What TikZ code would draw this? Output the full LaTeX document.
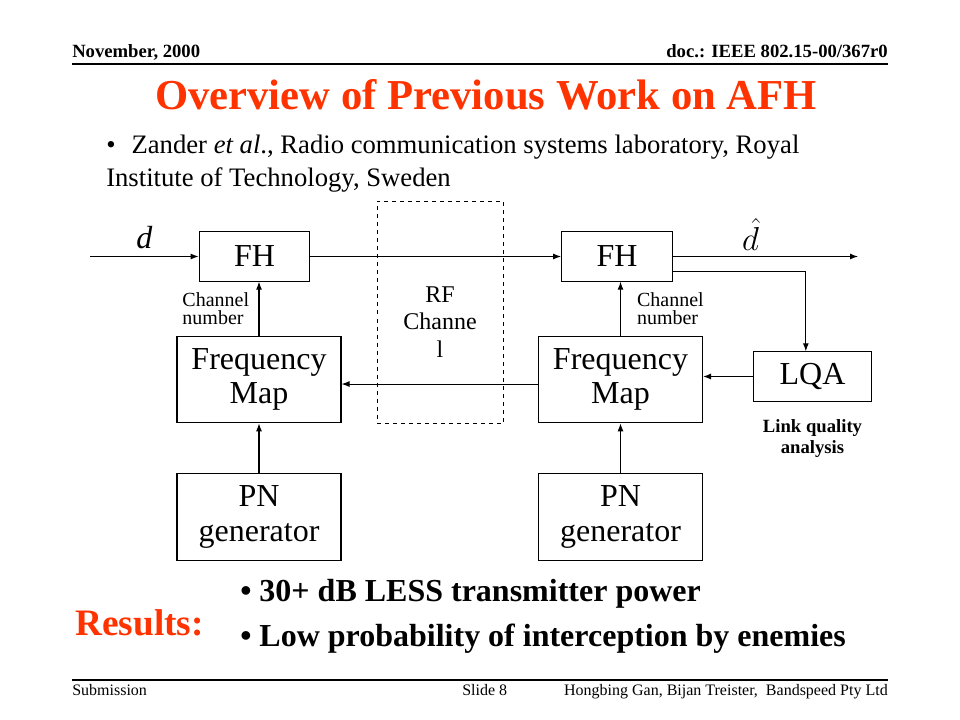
\documentclass[tikz,border=0pt]{standalone}
\usepackage{fontspec}
\setmainfont{Liberation Serif}
\usepackage{amsmath}
\usepackage{tikz}
\usetikzlibrary{arrows.meta, positioning}
\definecolor{afhred}{RGB}{255,51,0}
\tikzstyle{fh} = [rectangle, draw=black, line width=0.8pt, minimum width=83pt, minimum height=37pt, text centered, font=\fontsize{24}{25}\selectfont]
\tikzstyle{map} = [rectangle, draw=black, line width=0.8pt, minimum width=123pt, minimum height=65pt, align=center, inner sep=0pt, font=\fontsize{24}{26}\selectfont]
\tikzstyle{lqabox} = [rectangle, draw=black, line width=0.8pt, minimum width=89pt, minimum height=37pt, text centered, font=\fontsize{24}{25}\selectfont]
\tikzstyle{chan} = [rectangle, draw=black, dashed, line width=0.6pt, minimum width=94.5pt, minimum height=167pt]
\tikzstyle{chantext} = [align=center, inner sep=0pt, font=\fontsize{18}{20.5}\selectfont]
\tikzstyle{cnum} = [align=left, inner sep=0pt, font=\fontsize{15}{14}\selectfont]
\tikzstyle{note} = [align=center, inner sep=0pt, font=\bfseries\fontsize{14}{16}\selectfont]
\tikzstyle{arrow} = [line width=0.8pt, -{Latex[length=6pt, width=4.5pt]}]
\tikzstyle{rule} = [line width=1pt]

\begin{document}
\begin{tikzpicture}[x=0.75pt, y=-0.75pt, inner sep=0pt]
	\useasboundingbox (0,0) rectangle (960,720);
	% header and footer
	\node (date) [anchor=base west, font=\bfseries\fontsize{14}{16}\selectfont] at (72,58) {November, 2000};
	\node (doc) [anchor=base east, font=\bfseries\fontsize{14}{16}\selectfont] at (888,58) {doc.: IEEE 802.15-00/367r0};
	\draw [rule] (72,64) -- (888,64);
	\draw [rule] (72,680) -- (888,680);
	\node (sub) [anchor=base west, font=\fontsize{12}{14}\selectfont] at (72,695) {Submission};
	\node (slide) [anchor=base west, font=\fontsize{12}{14}\selectfont] at (462,695) {Slide 8};
	\node (authors) [anchor=base east, font=\fontsize{12}{14}\selectfont] at (888,695) {Hongbing Gan, Bijan Treister,~ Bandspeed Pty Ltd};
	% title and text
	\node (title) [anchor=base, text=afhred, font=\bfseries\fontsize{32}{36}\selectfont] at (486,110) {Overview of Previous Work on AFH};
	\node (zander) [anchor=base west, font=\fontsize{20}{24}\selectfont] at (106,154) {\textbullet\hspace{12pt}Zander \textit{et al}., Radio communication systems laboratory, Royal};
	\node (inst) [anchor=base west, font=\fontsize{20}{24}\selectfont] at (106,187) {Institute of Technology, Sweden};
	% blocks
	\node (fhL) [fh] at (254.5,256.5) {FH};
	\node (fhR) [fh] at (617,256.5) {FH};
	\node (mapL) [map] at (259,379.5) {Frequency\\Map};
	\node (mapR) [map] at (620.5,379.5) {Frequency\\Map};
	\node (pnL) [map, below=37.5pt of mapL] {PN\\generator};
	\node (pnR) [map, below=37.5pt of mapR] {PN\\generator};
	\node (lqa) [lqabox] at (812.5,376.5) {LQA};
	\node (lqanote) [note, below=13pt of lqa] {Link quality\\analysis};
	\node (rf) [chan] at (440,312.5) {};
	\node (rftext) [chantext] at ([yshift=-7pt]rf.center) {RF\\Channe\\l};
	% connectors
	\coordinate (din) at (90,256.5);
	\coordinate (dout) at (858,256.5);
	\draw [arrow] (din) -- node[above=5pt, font=\itshape\fontsize{24}{25}\selectfont] {d} (fhL);
	\draw [arrow] (fhL) -- (fhR);
	\draw [arrow] (fhR) -- node[above=4pt, pos=0.42, font=\fontsize{24}{25}\selectfont] {$\hat{d}$} (dout);
	\draw [arrow] ([yshift=-11.6pt]fhR.east) -| ([xshift=-5pt]lqa.north);
	\draw [arrow] (lqa.west) -- (lqa.west -| mapR.east);
	\draw [arrow] ([yshift=-3.4pt]mapR.west) -- ([yshift=-3.4pt]mapL.east);
	\draw [arrow] (mapL) -- node[cnum, anchor=east, xshift=-7pt] {Channel\\number} (mapL |- fhL.south);
	\draw [arrow] (mapR) -- node[cnum, anchor=west, xshift=12pt] {Channel\\number} (mapR |- fhR.south);
	\draw [arrow] (pnL) -- (mapL);
	\draw [arrow] (pnR) -- (mapR);
	% results
	\node (results) [anchor=base west, text=afhred, font=\bfseries\fontsize{28}{32}\selectfont] at (75,635) {Results:};
	\node (res1) [anchor=base west, font=\bfseries\fontsize{24}{28}\selectfont] at (240,601) {\textbullet\ 30+ dB LESS transmitter power};
	\node (res2) [anchor=base west, font=\bfseries\fontsize{24}{28}\selectfont] at (240,646) {\textbullet\ Low probability of interception by enemies};
\end{tikzpicture}
\end{document}
